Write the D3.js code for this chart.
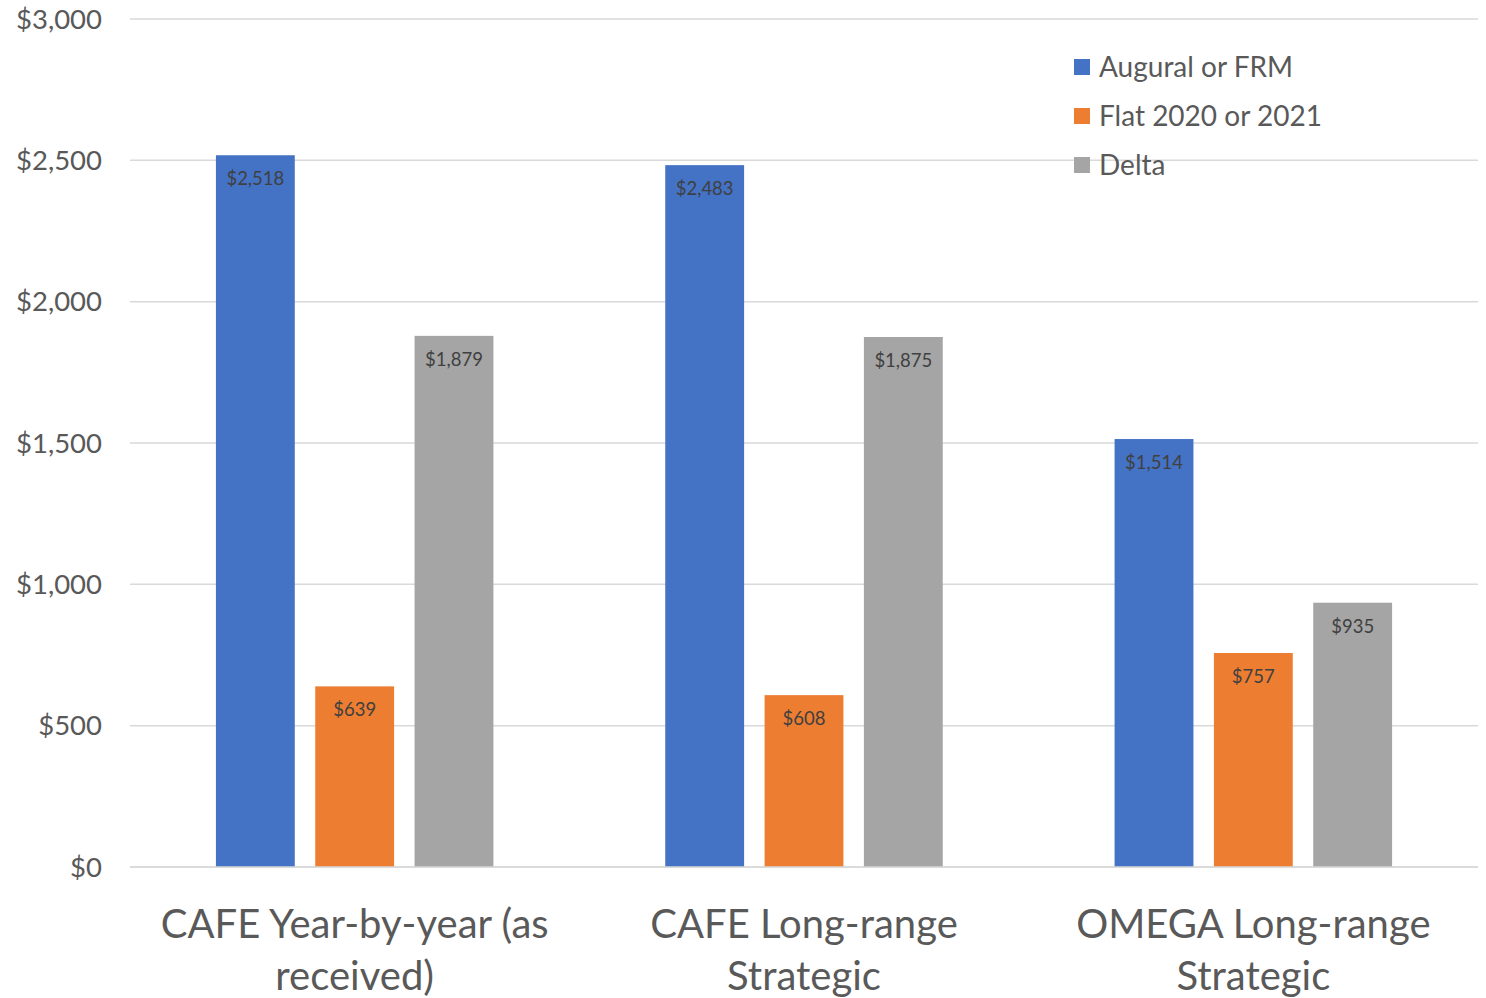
<!DOCTYPE html>
<html><head><meta charset="utf-8">
<script src="https://cdn.jsdelivr.net/npm/d3@7"></script>
<style>body{margin:0;background:#fff}svg{display:block}</style>
</head><body>
<script>
const categories = [["CAFE Year-by-year (as", "received)"], ["CAFE Long-range", "Strategic"], ["OMEGA Long-range", "Strategic"]];
const seriesNames = ["Augural or FRM", "Flat 2020 or 2021", "Delta"];
const seriesColors = ["#4472C4", "#ED7D31", "#A5A5A5"];
const augural = [2518, 2483, 1514];
const flat = [639, 608, 757];
const delta = [1879, 1875, 935];
const yTicks = [0, 500, 1000, 1500, 2000, 2500, 3000];

const W = 1486, H = 998;
const svg = d3.select("body").append("svg").attr("width", W).attr("height", H);
const font = "Lato, 'Open Sans', sans-serif";
const x0 = d3.scaleBand().domain(d3.range(3)).range([130, 1478]).paddingInner(0).paddingOuter(0);
const y = d3.scaleLinear().domain([0, 3000]).range([867, 19]);
const x1 = d3.scaleBand().domain(d3.range(3)).range([0, x0.bandwidth()]).paddingInner(0.206).paddingOuter(0.865);

const fmt = v => "$" + d3.format(",")(v);

// gridlines
svg.append("g").selectAll("line").data(yTicks).join("line")
  .attr("x1", 130).attr("x2", 1478).attr("y1", d => y(d)).attr("y2", d => y(d))
  .attr("stroke", "#D9D9D9").attr("stroke-width", 1.5);

// y labels
svg.append("g").selectAll("text").data(yTicks).join("text")
  .attr("x", 102).attr("y", d => y(d)).attr("dy", "0.35em").attr("text-anchor", "end")
  .attr("font-family", font).attr("font-size", 27.5).attr("fill", "#595959").text(fmt);

const series = [augural, flat, delta];
const data = [];
series.forEach((s, si) => s.forEach((v, ci) => data.push({si, ci, v})));

svg.append("g").selectAll("rect").data(data).join("rect")
  .attr("x", d => x0(d.ci) + x1(d.si)).attr("width", x1.bandwidth())
  .attr("y", d => y(d.v)).attr("height", d => y(0) - y(d.v))
  .attr("fill", d => seriesColors[d.si]);

svg.append("g").selectAll("text").data(data).join("text")
  .attr("x", d => x0(d.ci) + x1(d.si) + x1.bandwidth() / 2).attr("y", d => y(d.v) + 30)
  .attr("text-anchor", "middle").attr("font-family", font).attr("font-size", 18.5).attr("fill", "#404040")
  .text(d => fmt(d.v));

// baseline
svg.append("line").attr("x1", 130).attr("x2", 1478).attr("y1", y(0)).attr("y2", y(0))
  .attr("stroke", "#D9D9D9").attr("stroke-width", 1.5);

// category labels
const cat = svg.append("g").selectAll("text").data(categories).join("text")
  .attr("text-anchor", "middle").attr("font-family", font).attr("font-size", 40).attr("fill", "#595959");
cat.each(function(d, i) {
  const t = d3.select(this);
  d.forEach((line, li) => t.append("tspan").attr("x", x0(i) + x0.bandwidth() / 2).attr("y", 938 + li * 52).text(line));
});

// legend
const lg = svg.append("g").selectAll("g").data(seriesNames).join("g")
  .attr("transform", (d, i) => `translate(1074, ${67 + i * 49})`);
lg.append("rect").attr("x", 0).attr("y", -8).attr("width", 16).attr("height", 16).attr("fill", (d, i) => seriesColors[i]);
lg.append("text").attr("x", 25).attr("dy", "0.35em").attr("font-family", font).attr("font-size", 28)
  .attr("fill", "#595959").text(d => d);
</script>
</body></html>
